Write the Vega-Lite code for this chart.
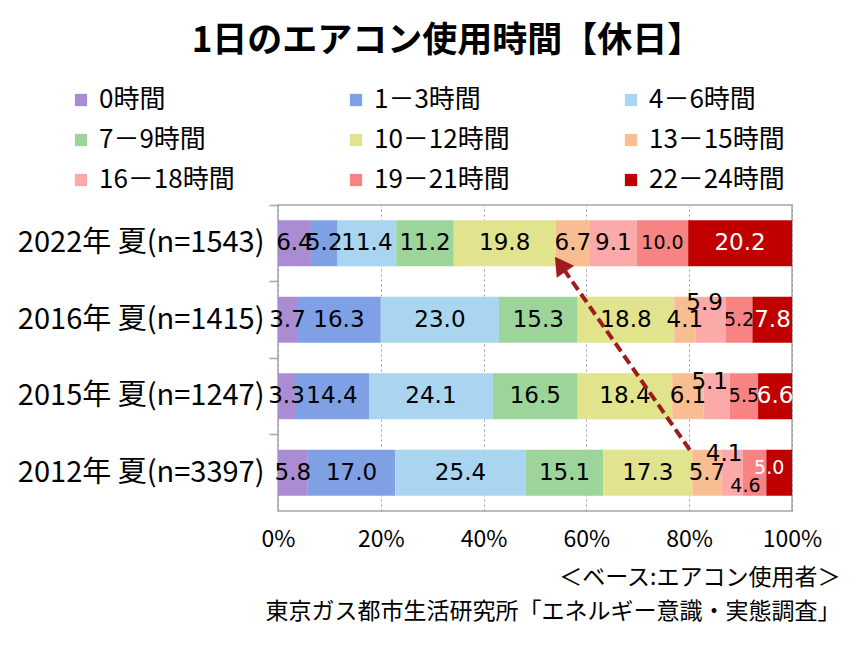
{
  "$schema": "https://vega.github.io/schema/vega-lite/v6.json",
  "width": 514,
  "height": 306,
  "autosize": {"type": "none"},
  "padding": {"left": 278, "top": 205, "right": 72, "bottom": 134},
  "background": "white",
  "config": {"font": "Noto Sans CJK JP", "view": {"stroke": "#a6a6a6", "strokeWidth": 1.5}},
  "title": {"text": "1日のエアコン使用時間【休日】", "fontSize": 35, "fontWeight": "bold", "font": "Noto Sans CJK JP", "color": "black", "anchor": "middle", "frame": "group", "dx": -88, "offset": 28},
  "datasets": {
    "shares": [
      {"year": "2022年 夏(n=1543)", "cat": "0時間", "k": 0, "v": 6.4},
      {"year": "2022年 夏(n=1543)", "cat": "1－3時間", "k": 1, "v": 5.2},
      {"year": "2022年 夏(n=1543)", "cat": "4－6時間", "k": 2, "v": 11.4},
      {"year": "2022年 夏(n=1543)", "cat": "7－9時間", "k": 3, "v": 11.2},
      {"year": "2022年 夏(n=1543)", "cat": "10－12時間", "k": 4, "v": 19.8},
      {"year": "2022年 夏(n=1543)", "cat": "13－15時間", "k": 5, "v": 6.7},
      {"year": "2022年 夏(n=1543)", "cat": "16－18時間", "k": 6, "v": 9.1},
      {"year": "2022年 夏(n=1543)", "cat": "19－21時間", "k": 7, "v": 10.0},
      {"year": "2022年 夏(n=1543)", "cat": "22－24時間", "k": 8, "v": 20.2},
      {"year": "2016年 夏(n=1415)", "cat": "0時間", "k": 0, "v": 3.7},
      {"year": "2016年 夏(n=1415)", "cat": "1－3時間", "k": 1, "v": 16.3},
      {"year": "2016年 夏(n=1415)", "cat": "4－6時間", "k": 2, "v": 23.0},
      {"year": "2016年 夏(n=1415)", "cat": "7－9時間", "k": 3, "v": 15.3},
      {"year": "2016年 夏(n=1415)", "cat": "10－12時間", "k": 4, "v": 18.8},
      {"year": "2016年 夏(n=1415)", "cat": "13－15時間", "k": 5, "v": 4.1},
      {"year": "2016年 夏(n=1415)", "cat": "16－18時間", "k": 6, "v": 5.9},
      {"year": "2016年 夏(n=1415)", "cat": "19－21時間", "k": 7, "v": 5.2},
      {"year": "2016年 夏(n=1415)", "cat": "22－24時間", "k": 8, "v": 7.8},
      {"year": "2015年 夏(n=1247)", "cat": "0時間", "k": 0, "v": 3.3},
      {"year": "2015年 夏(n=1247)", "cat": "1－3時間", "k": 1, "v": 14.4},
      {"year": "2015年 夏(n=1247)", "cat": "4－6時間", "k": 2, "v": 24.1},
      {"year": "2015年 夏(n=1247)", "cat": "7－9時間", "k": 3, "v": 16.5},
      {"year": "2015年 夏(n=1247)", "cat": "10－12時間", "k": 4, "v": 18.4},
      {"year": "2015年 夏(n=1247)", "cat": "13－15時間", "k": 5, "v": 6.1},
      {"year": "2015年 夏(n=1247)", "cat": "16－18時間", "k": 6, "v": 5.1},
      {"year": "2015年 夏(n=1247)", "cat": "19－21時間", "k": 7, "v": 5.5},
      {"year": "2015年 夏(n=1247)", "cat": "22－24時間", "k": 8, "v": 6.6},
      {"year": "2012年 夏(n=3397)", "cat": "0時間", "k": 0, "v": 5.8},
      {"year": "2012年 夏(n=3397)", "cat": "1－3時間", "k": 1, "v": 17.0},
      {"year": "2012年 夏(n=3397)", "cat": "4－6時間", "k": 2, "v": 25.4},
      {"year": "2012年 夏(n=3397)", "cat": "7－9時間", "k": 3, "v": 15.1},
      {"year": "2012年 夏(n=3397)", "cat": "10－12時間", "k": 4, "v": 17.3},
      {"year": "2012年 夏(n=3397)", "cat": "13－15時間", "k": 5, "v": 5.7},
      {"year": "2012年 夏(n=3397)", "cat": "16－18時間", "k": 6, "v": 4.1},
      {"year": "2012年 夏(n=3397)", "cat": "19－21時間", "k": 7, "v": 4.6},
      {"year": "2012年 夏(n=3397)", "cat": "22－24時間", "k": 8, "v": 5.0}
    ],
    "arrow": [
      {"x1": 80.1, "y1": 0.8, "x2": 54.9, "y2": 3.226}
    ]
  },
  "layer": [
    {
      "data": {"name": "shares"},
      "layer": [
        {
          "mark": {"type": "bar", "clip": true},
          "encoding": {
            "y": {
              "field": "year", "type": "nominal", "sort": null,
              "scale": {"paddingInner": 0.4, "paddingOuter": 0.2},
              "axis": {"title": null, "labelFontSize": 29, "labelColor": "black", "labelFont": "Noto Sans CJK JP", "labelLimit": 400, "domain": false, "ticks": true, "tickSize": 9, "tickColor": "#a6a6a6", "tickWidth": 1.5, "bandPosition": -0.3333, "labelPadding": 5}
            },
            "x": {
              "field": "v", "type": "quantitative", "stack": "zero",
              "scale": {"domain": [0, 100], "nice": false},
              "axis": {
                "values": [0, 20, 40, 60, 80, 100],
                "labelExpr": "datum.value + '%'",
                "labelFontSize": 23, "labelColor": "black", "labelFont": "Noto Sans CJK JP", "labelFlush": false,
                "grid": true, "gridDash": [2, 3], "gridColor": "#999999", "gridWidth": 1,
                "ticks": false, "domain": false, "labelPadding": 17,
                "title": ["＜ベース:エアコン使用者＞", "東京ガス都市生活研究所「エネルギー意識・実態調査」"],
                "titleX": 562, "titleY": 55, "titleAlign": "right", "titleBaseline": "top",
                "titleFontSize": 23, "titleFontWeight": "normal", "titleLineHeight": 34, "titleColor": "black", "titleFont": "Noto Sans CJK JP"
              }
            },
            "color": {
              "field": "cat", "type": "nominal",
              "scale": {
                "domain": ["0時間", "1－3時間", "4－6時間", "7－9時間", "10－12時間", "13－15時間", "16－18時間", "19－21時間", "22－24時間"],
                "range": ["#a98cd1", "#80a0e6", "#a9d5f0", "#9cd49a", "#e1e48c", "#f8be91", "#fca9aa", "#f78383", "#c00000"]
              },
              "legend": {
                "orient": "none", "legendX": -210, "legendY": -118, "columns": 3, "direction": "horizontal",
                "symbolType": "square", "symbolSize": 150, "symbolStrokeWidth": 0,
                "labelFontSize": 26, "labelFont": "Noto Sans CJK JP", "labelColor": "black", "labelLimit": 300,
                "title": null, "columnPadding": 108, "rowPadding": 14, "gridAlign": "all", "labelOffset": 5
              }
            },
            "order": {"field": "k", "type": "quantitative"}
          }
        },
        {
          "mark": {
            "type": "text",
            "font": "DejaVu Sans",
            "fontSize": {"expr": "((slice(datum.year,0,4)=='2012' && (datum.k==7 || datum.k==8)) || (datum.k==7 && slice(datum.year,0,4)!='2012')) ? 19 : 23"},
            "dx": {"expr": "(datum.k==6 && slice(datum.year,0,4)=='2016') ? -6 : (datum.k==6 && slice(datum.year,0,4)=='2015') ? -7 : (datum.k==6 && slice(datum.year,0,4)=='2012') ? -8 : (datum.k==7 && slice(datum.year,0,4)=='2012') ? -9 : (datum.k==8 && slice(datum.year,0,4)=='2012') ? -10 : 0"},
            "dy": {"expr": "(datum.k==6 && slice(datum.year,0,4)=='2016') ? -17 : (datum.k==6 && slice(datum.year,0,4)=='2015') ? -14 : (datum.k==6 && slice(datum.year,0,4)=='2012') ? -19 : (datum.k==7 && slice(datum.year,0,4)=='2012') ? 13 : (datum.k==8 && slice(datum.year,0,4)=='2012') ? -5 : 0"}
          },
          "encoding": {
            "y": {"field": "year", "type": "nominal", "sort": null},
            "x": {"field": "v", "type": "quantitative", "stack": "zero", "bandPosition": 0.5},
            "detail": {"field": "cat"},
            "text": {"field": "v", "type": "quantitative", "format": ".1f"},
            "color": {"condition": {"test": "datum.k == 8", "value": "white"}, "value": "black"},
            "order": {"field": "k", "type": "quantitative"}
          }
        }
      ]
    },
    {
      "data": {"name": "arrow"},
      "layer": [
        {
          "mark": {"type": "rule", "color": "#a01c1c", "strokeWidth": 4, "strokeDash": [10, 5]},
          "encoding": {
            "x": {"field": "x1", "type": "quantitative"},
            "x2": {"field": "x2"},
            "y": {"field": "y1", "type": "quantitative", "scale": {"domain": [0, 4], "nice": false}, "axis": null},
            "y2": {"field": "y2"}
          }
        },
        {
          "mark": {"type": "point", "shape": "triangle-up", "filled": true, "size": 450, "angle": 325, "color": "#a01c1c", "opacity": 1},
          "encoding": {
            "x": {"field": "x2", "type": "quantitative"},
            "y": {"field": "y2", "type": "quantitative", "axis": null}
          }
        }
      ]
    }
  ],
  "resolve": {"scale": {"y": "independent"}}
}
